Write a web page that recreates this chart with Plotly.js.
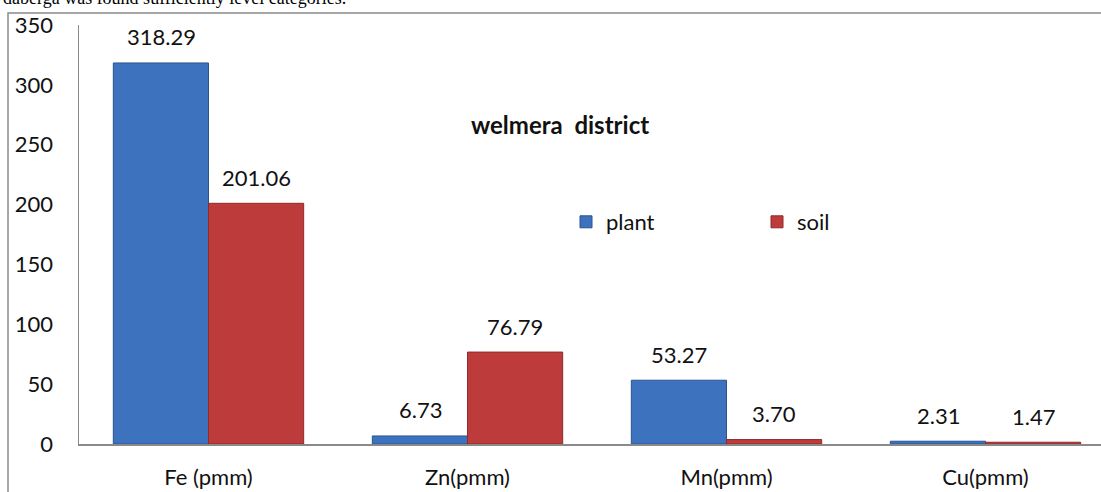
<!DOCTYPE html>
<html>
<head>
<meta charset="utf-8">
<script src="https://cdn.plot.ly/plotly-3.0.1.min.js"></script>
<style>
html,body{margin:0;padding:0;background:#fff;overflow:hidden;}
#chart{width:1101px;height:492px;}
</style>
</head>
<body>
<div id="chart"></div>
<script>
// ---- data ----
const categories = ["Fe (pmm)", "Zn(pmm)", "Mn(pmm)", "Cu(pmm)"];
const plantValues = [318.29, 6.73, 53.27, 2.31];
const soilValues  = [201.06, 76.79, 3.70, 1.47];
const seriesNames = ["plant", "soil"];
const yTicks = [0, 50, 100, 150, 200, 250, 300, 350];
const chartTitle = "welmera  district";
const captionText = "daberga was found sufficiently level categories.";

// ---- layout constants ----
const W = 1101, H = 492;
const M = {l: 79, r: 0, t: 25, b: 48};
const plotW = W - M.l - M.r, plotH = H - M.t - M.b;
const slotPx = 259;
const xEnd = plotW / slotPx - 0.5;
const barHalfShift = 47.5;
const labelFont = {family: "Lato, 'Open Sans', sans-serif", size: 22, color: "#111"};
const px2paperX = p => (p - M.l) / plotW;
const px2paperY = p => (H - M.b - p) / plotH;

const colors = ["#3D72BE", "#BD3B3B"];
const lineColors = ["#2A5590", "#8E2B2B"];

const traces = [plantValues, soilValues].map((vals, i) => ({
  type: "bar",
  name: seriesNames[i],
  x: categories,
  y: vals,
  marker: {color: colors[i], line: {color: lineColors[i], width: 1}},
  hoverinfo: "x+y"
}));

const annotations = [];
[plantValues, soilValues].forEach((vals, i) => {
  vals.forEach((v, j) => {
    annotations.push({
      xref: "x", yref: "y", x: categories[j], y: v,
      xshift: i === 0 ? -barHalfShift : barHalfShift,
      yshift: 26, yanchor: "middle", xanchor: "center",
      text: v.toFixed(2), showarrow: false, font: labelFont
    });
  });
});
annotations.push({
  xref: "paper", yref: "paper", x: px2paperX(560), y: px2paperY(125),
  xanchor: "center", yanchor: "middle", showarrow: false,
  text: "<b>" + chartTitle + "</b>",
  font: {family: "Lato, 'Open Sans', sans-serif", size: 24, color: "#111"}
});
annotations.push({
  xref: "paper", yref: "paper", x: px2paperX(1), y: px2paperY(-2),
  xanchor: "left", yanchor: "middle", showarrow: false,
  text: captionText,
  font: {family: "'Liberation Serif', 'Times New Roman', serif", size: 18, color: "#000"}
});

const layout = {
  width: W, height: H,
  margin: M,
  paper_bgcolor: "#fff", plot_bgcolor: "#fff",
  barmode: "group",
  bargap: 0.265, bargroupgap: 0,
  showlegend: true,
  legend: {
    orientation: "h",
    x: px2paperX(566), xanchor: "left",
    y: px2paperY(201), yanchor: "top",
    entrywidth: 146, entrywidthmode: "pixels",
    font: labelFont, bgcolor: "rgba(0,0,0,0)", borderwidth: 0,
    traceorder: "normal"
  },
  xaxis: {
    type: "category",
    range: [-0.5, xEnd],
    showgrid: false, zeroline: false,
    showline: true, linecolor: "#8a8a8a", linewidth: 2,
    ticks: "", ticklabelstandoff: 13,
    tickfont: labelFont, fixedrange: true
  },
  yaxis: {
    range: [0, 350],
    tickvals: yTicks, ticktext: yTicks.map(String),
    showgrid: false, zeroline: false,
    showline: true, linecolor: "#8a8a8a", linewidth: 1.5,
    ticks: "", ticklabelstandoff: 20,
    tickfont: labelFont, fixedrange: true
  },
  annotations: annotations,
  shapes: [{
    type: "path", xref: "paper", yref: "paper",
    path: "M " + px2paperX(8) + " " + px2paperY(600) +
          " L " + px2paperX(8) + " " + px2paperY(13) +
          " L " + px2paperX(1200) + " " + px2paperY(13),
    line: {color: "#8a8a8a", width: 1.5}
  }]
};

Plotly.newPlot("chart", traces, layout, {displayModeBar: false, staticPlot: true});
</script>
</body>
</html>
